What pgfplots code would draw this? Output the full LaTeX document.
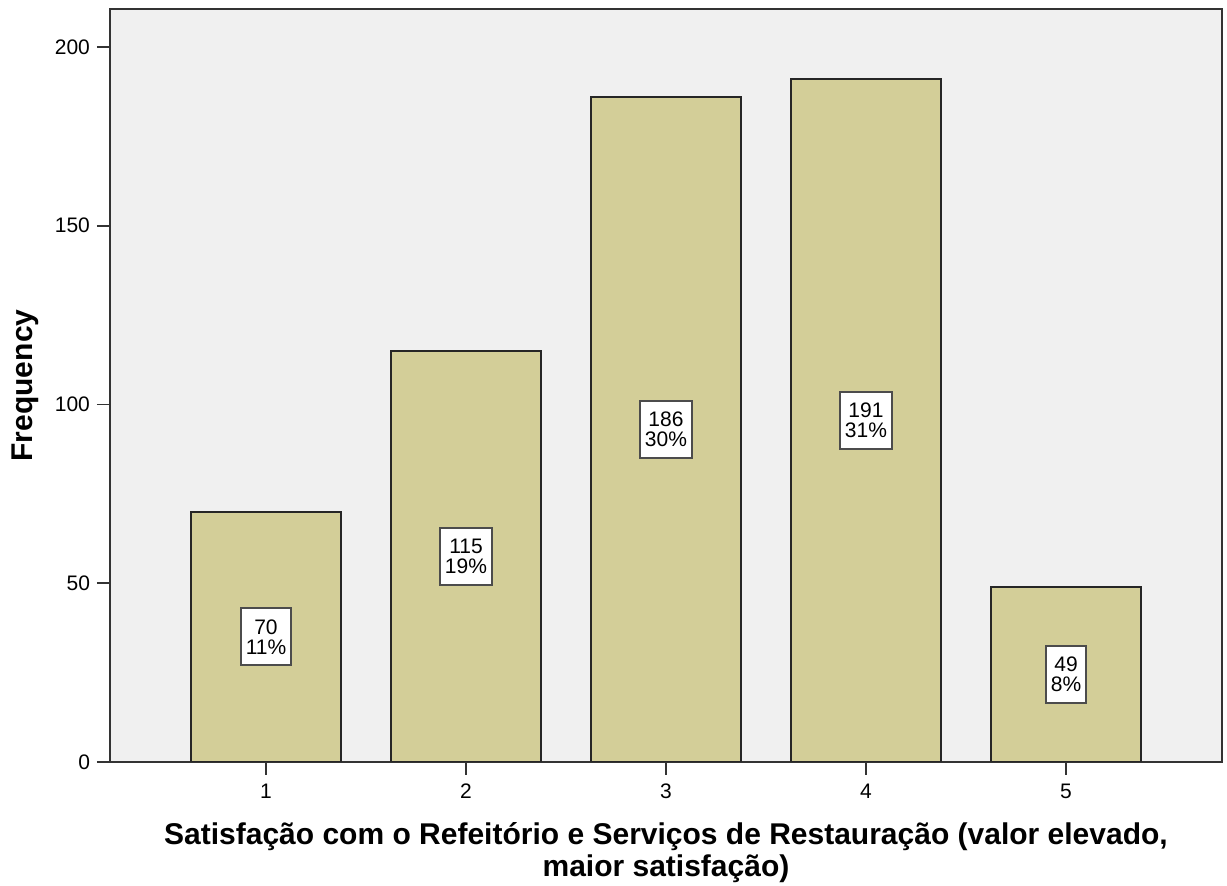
\documentclass[border=0pt]{standalone}
\usepackage{pgfplots}
\pgfplotsset{compat=1.18}
\usepackage{pgfplotstable}
\usepackage{fontspec}
\setmainfont{Liberation Sans}
\usetikzlibrary{calc}
\definecolor{bgc}{HTML}{F0F0F0}
\definecolor{barc}{HTML}{D3CE98}

% frequencies and percentages per category
\pgfplotstableread{
x freq pct
1 70 11
2 115 19
3 186 30
4 191 31
5 49 8
}\freqtable

\begin{document}
\begin{tikzpicture}
\begin{axis}[
    scale only axis,
    width=556pt, height=376.5pt,
    xmin=0.22, xmax=5.78, ymin=0, ymax=210.6,
    axis background/.style={fill=bgc},
    axis line style={black!80, line width=0.9pt},
    xtick={1,2,3,4,5}, ytick={0,50,100,150,200},
    xtick pos=bottom, ytick pos=left, tick align=outside,
    major tick length=6.5pt,
    tick style={black!80, line width=0.9pt},
    ticklabel style={font=\fontsize{10.5}{12}\selectfont},
    xticklabel style={yshift=-1pt},
    /pgf/number format/assume math mode=true,
    xlabel={Satisfação com o Refeitório e Serviços de Restauração (valor elevado,\\maior satisfação)},
    xlabel style={font=\bfseries\fontsize{15}{16}\selectfont, align=center, inner sep=0pt,
        at={(axis description cs:0.5,0)}, anchor=north, yshift=-30pt},
    ylabel={Frequency},
    ylabel style={font=\bfseries\fontsize{15}{16}\selectfont,
        at={(axis description cs:-0.076,0.5)}, anchor=center},
]
\addplot[ybar, bar width=0.75, bar shift=0pt, fill=barc, draw=black!85, line width=0.8pt]
    table[x=x, y=freq]{\freqtable};

% boxed labels at half bar height
\addplot[only marks, mark=none,
    visualization depends on={\thisrow{freq}\as\freq},
    visualization depends on={\thisrow{pct}\as\pct},
    nodes near coords={\pgfmathprintnumber{\freq}\\\pgfmathprintnumber{\pct}\%},
    nodes near coords style={anchor=center, align=center, draw=black!70, fill=white,
        line width=1pt, inner xsep=2.5pt, inner ysep=5.5pt,
        font=\fontsize{10.5}{10}\selectfont,
        /pgf/number format/assume math mode=true},
] table[x=x, y expr=\thisrow{freq}/2]{\freqtable};
\end{axis}
\path[use as bounding box] ($(current axis.south west)+(-55pt,-62pt)$) rectangle ($(current axis.north east)+(2.5pt,4.5pt)$);
\end{tikzpicture}
\end{document}
